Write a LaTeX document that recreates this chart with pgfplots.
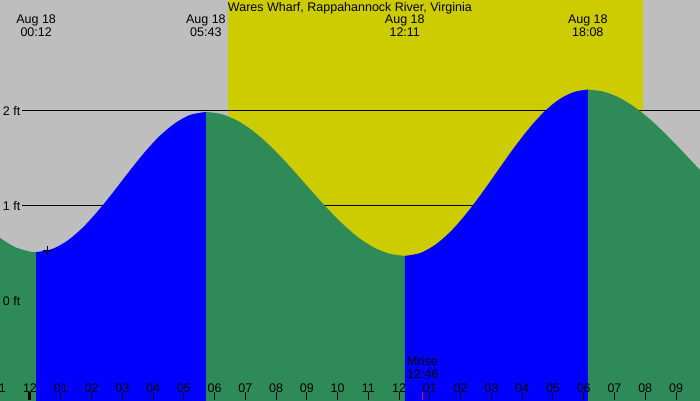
\documentclass[border=0pt]{standalone}
\usepackage{pgfplots}
\pgfplotsset{compat=1.18}
\usepackage{fontspec}
\setmainfont{Liberation Sans}

\definecolor{bggrey}{HTML}{BEBEBE}
\definecolor{dayyel}{HTML}{CCCC00}
\definecolor{tidegreen}{HTML}{2E8B57}
\definecolor{tideblue}{HTML}{0000FF}
\newcommand{\lblfont}{\fontsize{12.5}{14}\selectfont}

\begin{document}
\begin{tikzpicture}
\begin{axis}[
  name=ax, anchor=south west, at={(0,0)},
  width=700pt, height=400pt, scale only axis,
  xmin=-0.975, xmax=21.78, ymin=-1.047, ymax=3.163,
  axis background/.style={fill=bggrey},
  axis line style={draw=none},
  axis on top,
  xtick={0,1,...,21},
  xticklabels={12,01,02,03,04,05,06,07,08,09,10,11,12,01,02,03,04,05,06,07,08,09},
  xtick pos=bottom, tick align=inside, major tick length=8pt,
  xtick style={black, line width=1pt},
  xticklabel style={anchor=base, yshift=8pt, font=\lblfont},
  ytick=\empty,
]
% daylight
\addplot[fill=dayyel, draw=none] coordinates {(6.437,-1.2) (6.437,3.3) (19.93,3.3) (19.93,-1.2)};
% level lines
\addplot[black, line width=1pt] coordinates {(-0.26,2) (21.78,2)};
\addplot[black, line width=1pt] coordinates {(-0.26,1) (21.78,1)};
\addplot[black, line width=1pt] coordinates {(-0.26,0) (21.78,0)};

% tide segments: falling (green) and rising (blue)
\addplot[fill=tidegreen, draw=none, smooth] coordinates {
  (-0.975,0.66) (-0.5,0.564) (0,0.515) (0.2,0.51)} |- (-0.975,-1.2) -- cycle;

\addplot[fill=tideblue, draw=none, smooth] coordinates {
  (0.2,0.51) (0.7,0.540) (1.2,0.626) (1.7,0.763) (2.2,0.939)
  (2.7,1.139) (3.2,1.349) (3.7,1.550) (4.2,1.727) (4.7,1.863) (5.2,1.953)
  (5.717,1.985)} |- (0.2,-1.2) -- cycle;

\addplot[fill=tidegreen, draw=none, smooth] coordinates {
  (5.717,1.985) (6.217,1.963) (6.717,1.897) (7.217,1.793)
  (7.717,1.655) (8.217,1.492) (8.717,1.313) (9.217,1.130) (9.717,0.952)
  (10.217,0.790) (10.717,0.653) (11.217,0.552) (11.717,0.490) (12.183,0.47)}
  |- (5.717,-1.2) -- cycle;

\addplot[fill=tideblue, draw=none, smooth] coordinates {
  (12.183,0.47) (12.683,0.500) (13.183,0.589) (13.683,0.730)
  (14.183,0.915) (14.683,1.128) (15.183,1.357) (15.683,1.585) (16.183,1.796)
  (16.683,1.977) (17.183,2.113) (17.683,2.195) (18.133,2.22)}
  |- (12.183,-1.2) -- cycle;

\addplot[fill=tidegreen, draw=none, smooth] coordinates {
  (18.133,2.22) (18.633,2.199) (19.133,2.139) (19.633,2.041)
  (20.133,1.914) (20.633,1.762) (21.133,1.596) (21.633,1.424) (21.78,1.375)}
  |- (18.133,-1.2) -- cycle;

% current time mark, midnight tick and moonrise tick
\addplot[only marks, mark=+, mark size=4.5pt, black, mark options={line width=1pt}] coordinates {(0.56,0.524)};
\addplot[black, line width=3pt] coordinates {(0,-1.047) (0,-0.963)};
\addplot[red, line width=1pt] coordinates {(12.767,-1.047) (12.767,-0.963)};

% labels
\node[anchor=base, font=\lblfont] at (axis cs:10.4,3.037) {Wares Wharf, Rappahannock River, Virginia};
\node[anchor=base, font=\lblfont] at (axis cs:0.2,2.916) {Aug 18};
\node[anchor=base, font=\lblfont] at (axis cs:0.2,2.784) {00:12};
\node[anchor=base, font=\lblfont] at (axis cs:5.717,2.916) {Aug 18};
\node[anchor=base, font=\lblfont] at (axis cs:5.717,2.784) {05:43};
\node[anchor=base, font=\lblfont] at (axis cs:12.183,2.916) {Aug 18};
\node[anchor=base, font=\lblfont] at (axis cs:12.183,2.784) {12:11};
\node[anchor=base, font=\lblfont] at (axis cs:18.133,2.916) {Aug 18};
\node[anchor=base, font=\lblfont] at (axis cs:18.133,2.784) {18:08};
\node[anchor=base, font=\lblfont] at (axis cs:-1,-0.963) {11};
\node[anchor=base west, inner sep=0pt, font=\lblfont] at (axis cs:-0.8875,1.951) {2 ft};
\node[anchor=base west, inner sep=0pt, font=\lblfont] at (axis cs:-0.8875,0.951) {1 ft};
\node[anchor=base west, inner sep=0pt, font=\lblfont] at (axis cs:-0.8875,-0.049) {0 ft};
\node[anchor=base west, inner sep=0pt, font=\lblfont] at (axis cs:12.256,-0.689) {Mrise};
\node[anchor=base west, inner sep=0pt, font=\lblfont] at (axis cs:12.256,-0.816) {12:46};
\end{axis}
\pgfresetboundingbox
\useasboundingbox (ax.south west) rectangle (ax.north east);
\end{tikzpicture}
\end{document}
